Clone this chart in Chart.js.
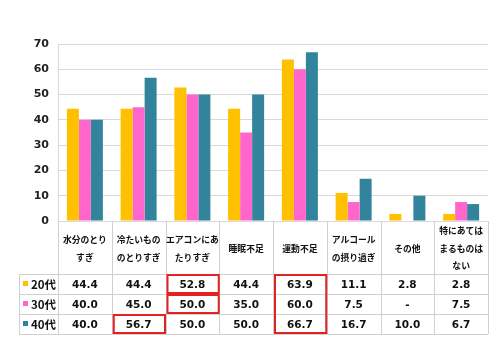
<!DOCTYPE html>
<html><head><meta charset="utf-8">
<script src="https://cdn.jsdelivr.net/npm/chart.js@4/dist/chart.umd.min.js"></script>
<style>html,body{margin:0;padding:0;background:#fff}#wrap{width:500px;height:356px;position:relative}</style>
</head><body><div id="wrap"><canvas id="c" width="500" height="356"></canvas></div>
<script>
const categories = [["水分のとり","すぎ"],["冷たいもの","のとりすぎ"],["エアコンにあ","たりすぎ"],["睡眠不足"],["運動不足"],["アルコール","の摂り過ぎ"],["その他"],["特にあては","まるものは","ない"]];
const seriesNames = ["20代","30代","40代"];
const s20 = [44.4,44.4,52.8,44.4,63.9,11.1,2.8,2.8];
const s30 = [40.0,45.0,50.0,35.0,60.0,7.5,null,7.5];
const s40 = [40.0,56.7,50.0,50.0,66.7,16.7,10.0,6.7];
const yTicks = [0,10,20,30,40,50,60,70];
const colors = ["#FFC000","#FF66CC","#31849B"];
// highlighted cells: [category index, first row, last row]
const highlights = [[2,0,0],[2,1,1],[1,2,2],[4,0,2]];

const FONT_CJK = '"Noto Sans CJK JP", "DejaVu Sans", sans-serif';
const tablePlugin = {
  id:'table',
  afterDraw(chart){
    const ctx = chart.ctx, a = chart.chartArea;
    const n = categories.length, w = (a.right - a.left)/n;
    const y0 = a.bottom, hEnd = y0 + 53, rowH = 20, rows = 3;
    const legL = 19;
    ctx.save();
    ctx.strokeStyle = '#d0d0d0'; ctx.lineWidth = 1;
    ctx.beginPath();
    for (let i=0;i<=n;i++){ const x = Math.round(a.left + i*w)+0.5; ctx.moveTo(x,y0); ctx.lineTo(x,hEnd+rows*rowH); }
    for (let r=0;r<=rows;r++){ const y = Math.round(hEnd + r*rowH)+0.5; ctx.moveTo(legL,y); ctx.lineTo(a.right,y); }
    ctx.moveTo(legL+0.5,hEnd); ctx.lineTo(legL+0.5,hEnd+rows*rowH);
    ctx.stroke();
    ctx.fillStyle = '#111'; ctx.textAlign='center'; ctx.textBaseline='middle';
    ctx.font = 'bold 8.8px ' + FONT_CJK;
    const lh = 17.5;
    categories.forEach((lines,i)=>{
      const cx = a.left + (i+0.5)*w, cy = (y0+hEnd)/2 + 1;
      lines.forEach((t,k)=>{ ctx.fillText(t, cx, cy + (k - (lines.length-1)/2)*lh); });
    });
    const data = [s20,s30,s40];
    ctx.font = 'bold 10.5px "DejaVu Sans", sans-serif';
    data.forEach((arr,r)=>{
      const cy = hEnd + r*rowH + rowH/2 + 1;
      arr.forEach((v,i)=>{ ctx.fillText(v==null?'-':v.toFixed(1), a.left+(i+0.5)*w, cy); });
      ctx.fillStyle = colors[r]; ctx.fillRect(23, cy-4, 5, 5);
      ctx.fillStyle = '#111'; ctx.textAlign='left';
      ctx.font = 'bold 11.5px ' + FONT_CJK;
      ctx.fillText(seriesNames[r], 31, cy);
      ctx.textAlign='center';
      ctx.font = 'bold 10.5px "DejaVu Sans", sans-serif';
    });
    ctx.strokeStyle = '#E32222'; ctx.lineWidth = 2;
    highlights.forEach(([c,r0,r1])=>{
      const x1 = a.left + c*w + 2, x2 = a.left + (c+1)*w - 0.5;
      const yA = hEnd + r0*rowH + 1, yB = hEnd + (r1+1)*rowH - 1;
      ctx.strokeRect(x1, yA, x2-x1, yB-yA);
    });
    ctx.restore();
  }
};

new Chart(document.getElementById('c'), {
  type:'bar',
  data:{
    labels: categories.map(c=>c.join('')),
    datasets: seriesNames.map((nm,i)=>({label:nm, data:[s20,s30,s40][i], backgroundColor:colors[i], borderWidth:0, barPercentage:1, categoryPercentage:0.67}))
  },
  options:{
    responsive:false, animation:false,
    layout:{padding:{left:0,right:12,top:44,bottom:135}},
    plugins:{legend:{display:false}, tooltip:{enabled:false}},
    scales:{
      x:{ticks:{display:false}, grid:{display:false}, border:{display:false}, afterFit(s){s.height=0;}},
      y:{min:0,max:70, afterBuildTicks(s){ s.ticks = yTicks.map(v=>({value:v})); },
         ticks:{color:'#222', font:{family:'"DejaVu Sans", sans-serif', weight:'bold', size:11}, padding:9},
         grid:{color:'#d9d9d9', drawTicks:false},
         border:{display:true, color:'#d9d9d9'},
         afterFit(s){ s.width = 58; }}
    }
  },
  plugins:[tablePlugin]
});
</script></body></html>
